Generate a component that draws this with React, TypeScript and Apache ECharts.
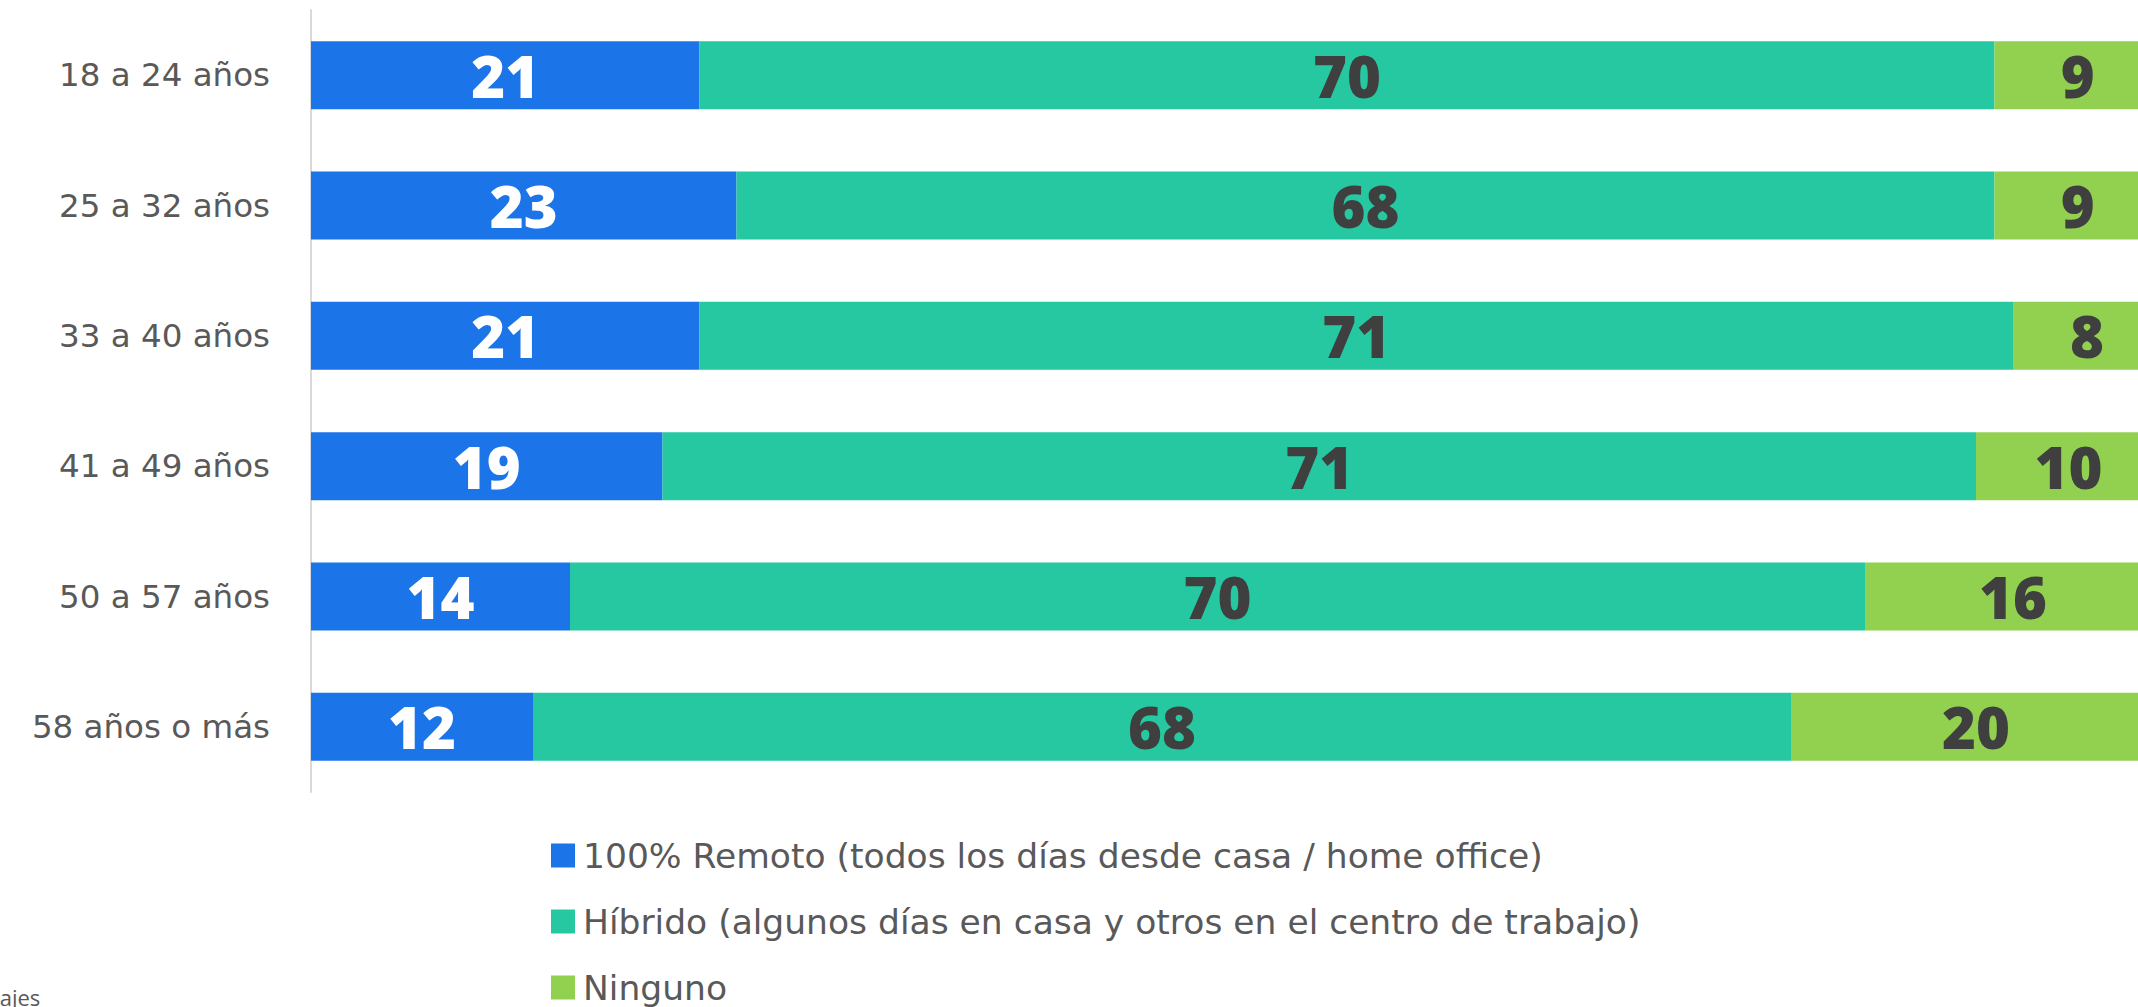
import React, { useEffect, useRef } from "react";
import * as echarts from "echarts";

const categories = ["18 a 24 años", "25 a 32 años", "33 a 40 años", "41 a 49 años", "50 a 57 años", "58 años o más"];
const seriesNames = [
  "100% Remoto (todos los días desde casa / home office)",
  "Híbrido (algunos días en casa y otros en el centro de trabajo)",
  "Ninguno",
];
const remoto = [21, 23, 21, 19, 14, 12];
const hibrido = [70, 68, 71, 71, 70, 68];
const ninguno = [9, 9, 8, 10, 16, 20];
const colors = ["#1B74E8", "#26C8A2", "#92D150"];
const labelColors = ["#FFFFFF", "#3F3F3F", "#3F3F3F"];
const footnote = "Porcentajes";

export default function App() {
  const ref = useRef<HTMLDivElement>(null);
  useEffect(() => {
    if (!ref.current) return;
    const chart = echarts.init(ref.current, null, { renderer: "svg" });
    const values = [remoto, hibrido, ninguno];
    chart.setOption({
      animation: false,
      backgroundColor: "#FFFFFF",
      grid: { left: 311, top: 10, width: 1850, height: 782, containLabel: false },
      xAxis: {
        type: "value",
        min: 0,
        max: 100,
        show: false,
      },
      yAxis: {
        type: "category",
        data: categories,
        inverse: true,
        axisLine: { show: true, lineStyle: { color: "#D9D9D9", width: 2 } },
        axisTick: { show: false },
        axisLabel: {
          margin: 41,
          fontFamily: "DejaVu Sans",
          fontSize: 32.5,
          color: "#595959",
        },
      },
      legend: {
        orient: "vertical",
        left: 546,
        top: 833,
        height: 400,
        itemWidth: 24,
        itemHeight: 24,
        itemGap: 31,
        icon: "rect",
        textStyle: {
          fontFamily: "DejaVu Sans",
          fontSize: 34.5,
          color: "#595959",
          padding: [0, 0, 0, 3],
        },
        data: seriesNames,
      },
      graphic: [
        {
          type: "text",
          left: -80,
          top: 986,
          style: { text: footnote, fontFamily: "Open Sans", fontSize: 22, fill: "#595959" },
        },
      ],
      series: values.map((v, i) => ({
        name: seriesNames[i],
        type: "bar",
        stack: "total",
        data: v,
        barWidth: 68,
        itemStyle: { color: colors[i] },
        label: {
          show: true,
          position: "inside",
          fontFamily: "Open Sans",
          fontWeight: 800,
          fontSize: 58,
          color: labelColors[i],
        },
      })),
    });
    return () => chart.dispose();
  }, []);
  return (
    <div style={{ position: "fixed", left: 0, top: 0, width: 2138, height: 1007, overflow: "hidden", background: "#fff" }}>
      <div ref={ref} style={{ width: 2170, height: 1007 }} />
    </div>
  );
}
